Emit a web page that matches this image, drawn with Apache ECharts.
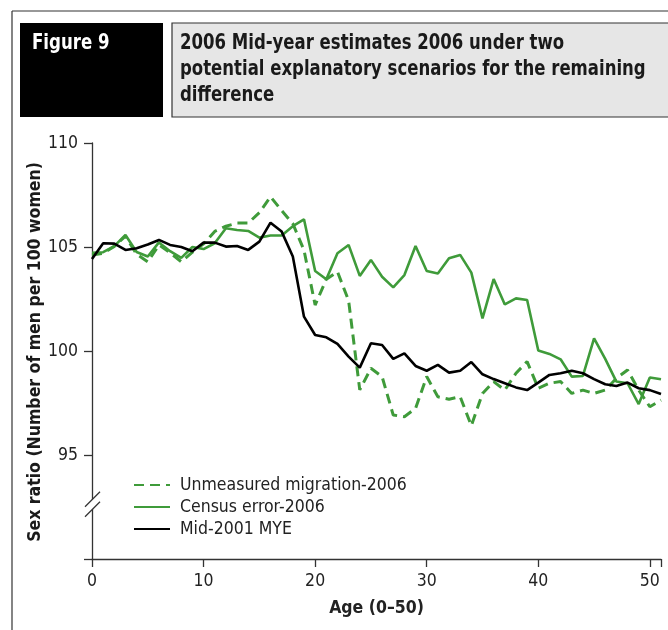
<!DOCTYPE html>
<html>
<head>
<meta charset="utf-8">
<script src="https://cdn.jsdelivr.net/npm/echarts@6/dist/echarts.min.js"></script>
<style>
  html, body { margin: 0; padding: 0; background: #ffffff; }
  #chart { width: 668px; height: 630px; }
</style>
</head>
<body>
<div id="chart"></div>
<script>
// Single years of age shown on the horizontal axis
const ages = [0, 1, 2, 3, 4, 5, 6, 7, 8, 9, 10, 11, 12, 13, 14, 15, 16, 17, 18, 19, 20,
  21, 22, 23, 24, 25, 26, 27, 28, 29, 30, 31, 32, 33, 34, 35, 36, 37, 38, 39, 40,
  41, 42, 43, 44, 45, 46, 47, 48, 49, 50, 51];

// Sex ratio (men per 100 women) by age
const migration2006 = [104.62, 104.70, 105.03, 105.52, 104.65, 104.29, 105.10, 104.72, 104.29, 104.75,
  105.15, 105.75, 106.00, 106.15, 106.15, 106.65, 107.42, 106.75, 106.12, 104.85,
  102.21, 103.45, 103.81, 102.42, 98.13, 99.17, 98.77, 96.92, 96.84, 97.24,
  98.77, 97.80, 97.68, 97.80, 96.41, 97.96, 98.53, 98.12, 98.93, 99.49,
  98.21, 98.45, 98.53, 97.96, 98.12, 97.96, 98.12, 98.69, 99.09, 98.12,
  97.32, 97.64];

const censusError2006 = [104.72, 104.75, 105.04, 105.58, 104.76, 104.54, 105.22, 104.80, 104.48, 105.00,
  104.90, 105.18, 105.90, 105.82, 105.77, 105.45, 105.55, 105.55, 106.00, 106.33,
  103.85, 103.45, 104.70, 105.10, 103.61, 104.38, 103.57, 103.06, 103.65, 105.05,
  103.85, 103.73, 104.46, 104.62, 103.77, 101.57, 103.46, 102.24, 102.53, 102.45,
  100.02, 99.86, 99.60, 98.77, 98.80, 100.61, 99.62, 98.53, 98.45, 97.45,
  98.73, 98.64];

const mye2001 = [104.42, 105.18, 105.16, 104.86, 104.94, 105.12, 105.34, 105.10, 105.00, 104.80,
  105.21, 105.21, 105.02, 105.05, 104.86, 105.26, 106.17, 105.74, 104.54, 101.65,
  100.77, 100.66, 100.34, 99.73, 99.20, 100.37, 100.29, 99.62, 99.89, 99.28,
  99.05, 99.33, 98.96, 99.05, 99.47, 98.88, 98.65, 98.45, 98.25, 98.12,
  98.48, 98.85, 98.93, 99.05, 98.93, 98.65, 98.40, 98.32, 98.48, 98.21,
  98.12, 97.93];

// Axis ticks and texts
const xTicks = [0, 10, 20, 30, 40, 50];
const yTicks = [95, 100, 105, 110];
const seriesNames = ['Unmeasured migration-2006', 'Census error-2006', 'Mid-2001 MYE'];
const figureLabel = 'Figure 9';
const titleLines = [
  '2006 Mid-year estimates 2006 under two',
  'potential explanatory scenarios for the remaining',
  'difference'
];
const yTitle = 'Sex ratio (Number of men per 100 women)';
const xTitle = 'Age (0\u201350)';

const FONT = '"Liberation Sans Narrow", "DejaVu Sans Condensed", "Open Sans", sans-serif';
const GREEN = '#3f9b3a';
const AXIS = '#333333';

const toPairs = vals => ages.map((a, i) => [a, vals[i]]);

const chart = echarts.init(document.getElementById('chart'), null, { renderer: 'canvas' });

chart.setOption({
  animation: false,
  backgroundColor: '#ffffff',
  grid: { left: 92, right: 7, top: 143, bottom: 71, containLabel: false },
  xAxis: {
    type: 'value', min: 0, max: 51, interval: 10,
    axisLine: { show: true, lineStyle: { color: AXIS, width: 1.3 } },
    axisTick: { show: true, length: 8, lineStyle: { color: AXIS, width: 1.3 } },
    axisLabel: {
      color: '#222', fontSize: 17.5, fontFamily: FONT, margin: 13,
      formatter: v => (xTicks.includes(v) ? String(v) : '')
    },
    splitLine: { show: false },
    name: xTitle, nameLocation: 'middle', nameGap: 40,
    nameTextStyle: { color: '#222', fontSize: 17.5, fontWeight: 'bold', fontFamily: FONT }
  },
  yAxis: {
    type: 'value', min: 90, max: 110, interval: 5,
    axisLine: { show: true, lineStyle: { color: AXIS, width: 1.3 } },
    axisTick: { show: true, length: 8, lineStyle: { color: AXIS, width: 1.3 } },
    axisLabel: {
      color: '#222', fontSize: 17.5, fontFamily: FONT, margin: 14,
      formatter: v => (yTicks.includes(v) ? String(v) : '')
    },
    splitLine: { show: false }
  },
  legend: {
    orient: 'vertical', left: 133, top: 476, padding: 0,
    itemWidth: 36, itemHeight: 12, itemGap: 4,
    itemStyle: { opacity: 0 },
    data: seriesNames,
    textStyle: { color: '#222', fontSize: 17.5, lineHeight: 18, fontFamily: FONT, padding: [0, 0, 0, 5] }
  },
  series: [
    {
      name: seriesNames[0], type: 'line', symbol: 'none', z: 3,
      data: toPairs(migration2006),
      lineStyle: { color: GREEN, width: 3, type: [10, 6] },
      itemStyle: { color: GREEN }
    },
    {
      name: seriesNames[1], type: 'line', symbol: 'none', z: 4,
      data: toPairs(censusError2006),
      lineStyle: { color: GREEN, width: 2.6 },
      itemStyle: { color: GREEN }
    },
    {
      name: seriesNames[2], type: 'line', symbol: 'none', z: 5,
      data: toPairs(mye2001),
      lineStyle: { color: '#000000', width: 2.6 },
      itemStyle: { color: '#000000' }
    }
  ]
});

// Axis break on the value axis, placed through the axis scale
const breakValue = 92.75;
const [bx, by] = chart.convertToPixel({ gridIndex: 0 }, [0, breakValue]);

chart.setOption({
  graphic: [
    // outer figure frame
    { type: 'line', shape: { x1: 12, y1: 11, x2: 668, y2: 11 }, style: { stroke: AXIS, lineWidth: 1.2 }, silent: true },
    { type: 'line', shape: { x1: 12, y1: 11, x2: 12, y2: 630 }, style: { stroke: AXIS, lineWidth: 1.2 }, silent: true },
    // figure number box
    { type: 'rect', shape: { x: 20, y: 23, width: 143, height: 94 }, style: { fill: '#000000' }, silent: true },
    {
      type: 'text', x: 32, y: 44, scaleX: 0.88,
      style: { text: figureLabel, fill: '#ffffff', font: 'bold 21px ' + FONT, verticalAlign: 'middle' },
      silent: true
    },
    // title box
    { type: 'rect', shape: { x: 172, y: 23, width: 520, height: 94 }, style: { fill: '#e6e6e6', stroke: AXIS, lineWidth: 1.2 }, silent: true },
    ...titleLines.map((t, i) => ({
      type: 'text', x: 180, y: 44 + i * 26, scaleX: 0.875,
      style: { text: t, fill: '#1a1a1a', font: 'bold 21px ' + FONT, verticalAlign: 'middle' },
      silent: true
    })),
    // vertical axis title
    {
      type: 'text', x: 35, y: 352, rotation: Math.PI / 2,
      style: { text: yTitle, fill: '#1a1a1a', font: 'bold 17.5px ' + FONT, align: 'center', verticalAlign: 'middle' },
      silent: true
    },
    // break: white gap over the axis plus two slashes
    {
      type: 'polygon', z: 100,
      shape: { points: [[bx - 7, by + 5], [bx + 8, by - 10], [bx + 8, by], [bx - 7, by + 15]] },
      style: { fill: '#ffffff' }, silent: true
    },
    { type: 'line', z: 101, shape: { x1: bx - 7, y1: by + 5, x2: bx + 8, y2: by - 10 }, style: { stroke: AXIS, lineWidth: 1.3 }, silent: true },
    { type: 'line', z: 101, shape: { x1: bx - 7, y1: by + 15, x2: bx + 8, y2: by }, style: { stroke: AXIS, lineWidth: 1.3 }, silent: true }
  ]
});
</script>
</body>
</html>
